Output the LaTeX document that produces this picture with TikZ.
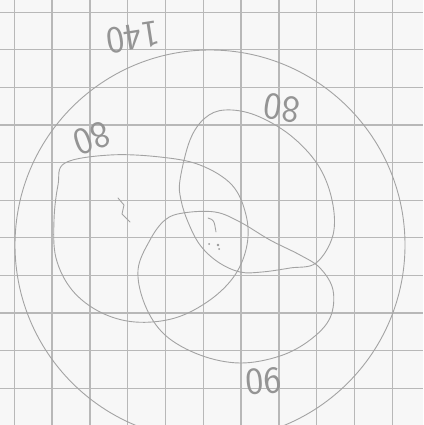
\documentclass[tikz,border=0pt]{standalone}
\usepackage{fontspec}
\begin{document}
\begin{tikzpicture}[x=1pt,y=-1pt,
  gridline/.style={draw=black!28, line width=1.3pt},
  pencil/.style={draw=black!36, line width=0.9pt, line join=round, line cap=round},
  numlabel/.style={text=black!42, font=\fontsize{38}{38}\selectfont\sffamily, inner sep=0pt}]
\fill[black!3] (0,0) rectangle (423,425);
\useasboundingbox (0,0) rectangle (423,425);
\foreach \i in {0,...,10} {\draw[gridline] ({14.3+37.8*\i},0) -- ({14.3+37.8*\i},425);}
\foreach \j in {0,...,10} {\draw[gridline] (0,{12.2+37.6*\j}) -- (423,{12.2+37.6*\j});}
% universe
\draw[pencil] (210,245) circle[radius=195];
% left set
\draw[pencil] plot[smooth cycle, tension=0.6] coordinates {(65,163) (110,155) (160,157) (200,165) (232,185) (246,215) (247,245) (235,275) (210,300) (175,318) (135,322) (100,312) (72,290) (56,258) (54,220) (58,185)};
% upper right set
\draw[pencil] plot[smooth cycle, tension=0.6] coordinates {(180,180) (190,140) (205,118) (225,110) (255,115) (290,135) (318,165) (332,200) (333,235) (316,263) (290,268) (262,272) (240,272) (218,262) (200,245) (188,222) (181,200)};
% bottom set
\draw[pencil] plot[smooth cycle, tension=0.6] coordinates {(183,213) (215,212) (240,222) (270,240) (300,255) (320,268) (333,290) (330,318) (310,340) (280,356) (240,363) (200,355) (165,335) (145,305) (138,270) (150,240) (165,220)};
% labels
\node[numlabel, rotate=189] (total) at (133,37) {140};
\node[numlabel, rotate=172] (lbB) at (282,108) {80};
\node[numlabel, rotate=200] (lbA) at (92,138) {80};
\node[numlabel, rotate=185] (lbC) at (264,381) {90};
% small marks
\draw[pencil] (118,198) -- (124,205) -- (122,214) -- (130,222);
\draw[pencil] (208,218) .. controls (214,220) .. (216,232);
\fill[black!40] (209,244) circle[radius=1] (218,245) circle[radius=1.3] (219,249) circle[radius=1];
\end{tikzpicture}
\end{document}
